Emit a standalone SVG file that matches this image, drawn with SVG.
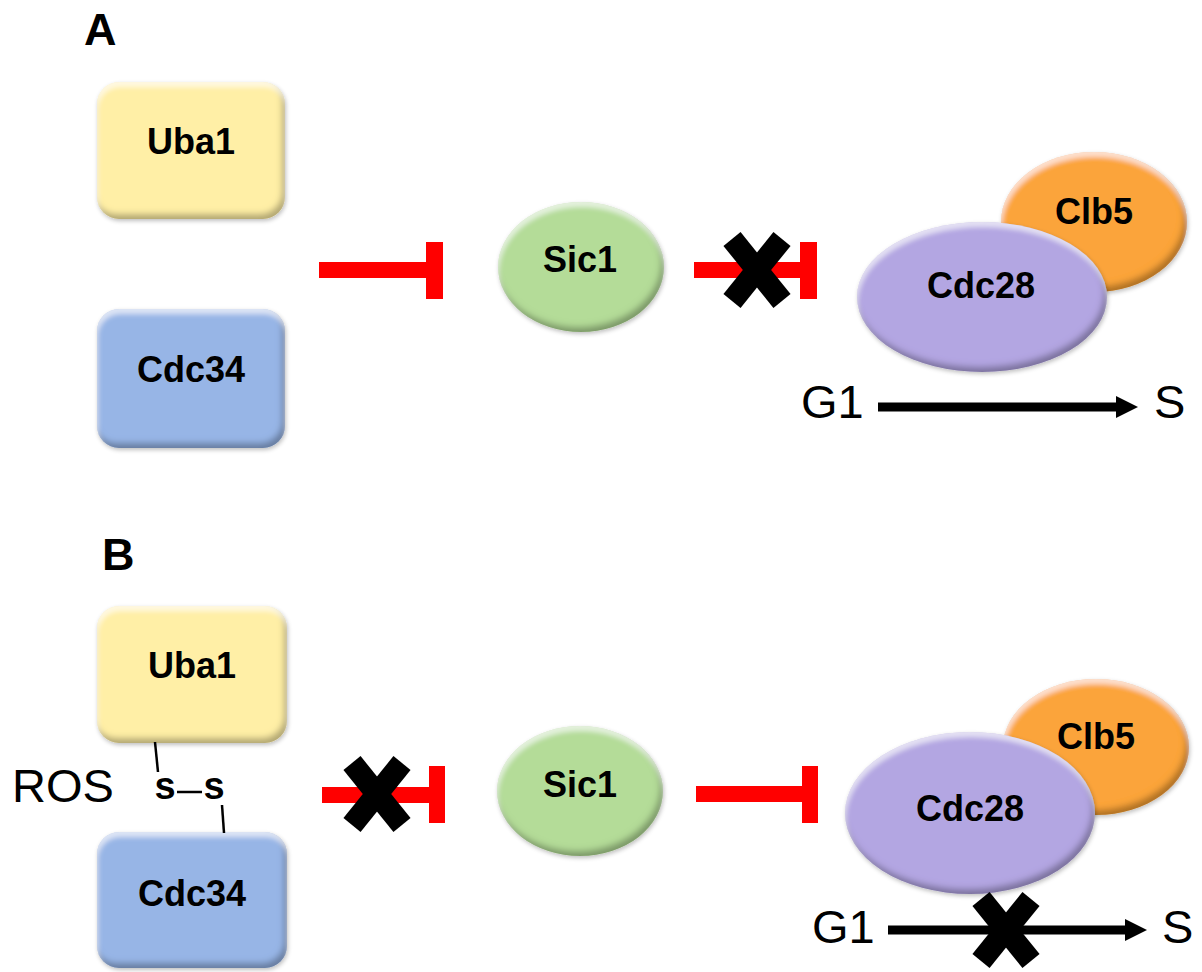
<svg xmlns="http://www.w3.org/2000/svg" width="1202" height="972" viewBox="0 0 1202 972">
<defs>
<style>
.lbl{font-family:"Liberation Sans",Arial,sans-serif;font-weight:bold;font-size:36px;text-anchor:middle;fill:#000}
.big{font-family:"Liberation Sans",Arial,sans-serif;font-size:47px;fill:#000}
.panel{font-family:"Liberation Sans",Arial,sans-serif;font-weight:bold;font-size:45px;fill:#000}
.ss{font-family:"Liberation Sans",Arial,sans-serif;font-weight:bold;font-size:38px;fill:#000;text-anchor:middle}
.inh{stroke:#FF0000;stroke-width:16;fill:none}
.bar{fill:#FF0000}
.xm{stroke:#000;stroke-width:22;stroke-linecap:butt}
.cell{stroke:#000;stroke-width:9;fill:none}
.bond{stroke:#000;stroke-width:2.5}
</style>
<filter id="bevel" x="-10%" y="-10%" width="125%" height="130%">
<feComponentTransfer in="SourceAlpha" result="inv"><feFuncA type="table" tableValues="1 0"/></feComponentTransfer>
<feGaussianBlur in="inv" stdDeviation="3" result="ib"/>
<feOffset in="ib" dx="-3" dy="-5" result="ibo"/>
<feFlood flood-color="#000" flood-opacity="0.55"/>
<feComposite operator="in" in2="ibo" result="sh"/>
<feComposite operator="in" in="sh" in2="SourceAlpha" result="inner"/>
<feGaussianBlur in="inv" stdDeviation="2.5" result="hb"/>
<feOffset in="hb" dx="1" dy="5" result="hbo"/>
<feFlood flood-color="#fff" flood-opacity="0.6"/>
<feComposite operator="in" in2="hbo" result="hl"/>
<feComposite operator="in" in="hl" in2="SourceAlpha" result="hi"/>
<feGaussianBlur in="SourceAlpha" stdDeviation="2" result="ds"/>
<feOffset in="ds" dx="1" dy="2" result="dso"/>
<feFlood flood-color="#000" flood-opacity="0.25"/>
<feComposite operator="in" in2="dso" result="drop"/>
<feMerge><feMergeNode in="drop"/><feMergeNode in="SourceGraphic"/><feMergeNode in="inner"/><feMergeNode in="hi"/></feMerge>
</filter>
<marker id="ah" markerUnits="userSpaceOnUse" markerWidth="24" markerHeight="24" refX="2" refY="11" orient="auto">
<path d="M0,0 L22,11 L0,22 Z" fill="#000"/>
</marker>
</defs>

<rect width="1202" height="972" fill="#fff"/>

<text class="panel" x="84" y="45">A</text>
<text class="panel" x="102" y="570">B</text>

<!-- Panel A nodes -->
<g id="uba1-a">
<rect x="97" y="82" width="188" height="137" rx="22" fill="#FFEFA6" filter="url(#bevel)"/>
<text class="lbl" x="191" y="154">Uba1</text>
</g>
<g id="cdc34-a">
<rect x="97" y="309" width="188" height="139" rx="22" fill="#97B5E6" filter="url(#bevel)"/>
<text class="lbl" x="191" y="382">Cdc34</text>
</g>
<g id="sic1-a">
<ellipse cx="581" cy="267" rx="83" ry="65" fill="#B4DC98" filter="url(#bevel)"/>
<text class="lbl" x="580" y="272">Sic1</text>
</g>
<g id="clb5-a">
<ellipse cx="1094" cy="222" rx="93" ry="70" fill="#FBA43A" filter="url(#bevel)"/>
<text class="lbl" x="1094" y="224">Clb5</text>
</g>
<g id="cdc28-a">
<ellipse cx="982" cy="297" rx="125" ry="75" fill="#B3A6E2" filter="url(#bevel)"/>
<text class="lbl" x="981" y="298">Cdc28</text>
</g>
<g id="g1-a"><text class="big" x="801" y="418">G1</text></g>
<g id="s-a"><text class="big" x="1154" y="418">S</text></g>

<!-- Panel B nodes -->
<g id="uba1-b">
<rect x="97" y="606" width="190" height="137" rx="22" fill="#FFEFA6" filter="url(#bevel)"/>
<text class="lbl" x="192" y="678">Uba1</text>
</g>
<g id="cdc34-b">
<rect x="97" y="832" width="190" height="136" rx="22" fill="#97B5E6" filter="url(#bevel)"/>
<text class="lbl" x="192" y="906">Cdc34</text>
</g>
<g id="sic1-b">
<ellipse cx="580" cy="791" rx="83" ry="65" fill="#B4DC98" filter="url(#bevel)"/>
<text class="lbl" x="580" y="797">Sic1</text>
</g>
<g id="clb5-b">
<ellipse cx="1096" cy="747" rx="93" ry="68" fill="#FBA43A" filter="url(#bevel)"/>
<text class="lbl" x="1096" y="749">Clb5</text>
</g>
<g id="cdc28-b">
<ellipse cx="970" cy="813" rx="125" ry="81" fill="#B3A6E2" filter="url(#bevel)"/>
<text class="lbl" x="970" y="821">Cdc28</text>
</g>
<g id="ros"><text class="big" x="12" y="802">ROS</text></g>
<g id="g1-b"><text class="big" x="812" y="943">G1</text></g>
<g id="s-b"><text class="big" x="1162" y="943">S</text></g>
<g id="disulfide">
<text class="ss" x="165" y="799">s</text>
<text class="ss" x="214" y="799">s</text>
</g>

<!-- Connectors -->
<g id="connectors">
<!-- A: Uba1/Cdc34 inhibit Sic1 -->
<line class="inh" x1="319" y1="270" x2="430" y2="270"/>
<rect class="bar" x="426" y="242" width="17" height="57"/>
<!-- A: Sic1 inhibit Cdc28 (blocked) -->
<line class="inh" x1="694" y1="270" x2="805" y2="270"/>
<rect class="bar" x="800" y="242" width="17" height="57"/>
<line class="xm" x1="732" y1="239" x2="782" y2="301"/>
<line class="xm" x1="782" y1="239" x2="732" y2="301"/>
<!-- A: G1 to S -->
<line class="cell" x1="878" y1="407" x2="1118" y2="407" marker-end="url(#ah)"/>

<!-- B: disulfide bonds -->
<line class="bond" x1="155" y1="742" x2="158" y2="772"/>
<line class="bond" x1="177" y1="792" x2="202" y2="792"/>
<line class="bond" x1="222" y1="805" x2="224" y2="833"/>
<!-- B: inhibit Sic1 (blocked) -->
<line class="inh" x1="322" y1="795" x2="432" y2="795"/>
<rect class="bar" x="429" y="766" width="16" height="57"/>
<line class="xm" x1="352" y1="763" x2="402" y2="825"/>
<line class="xm" x1="402" y1="763" x2="352" y2="825"/>
<!-- B: Sic1 inhibits Cdc28 -->
<line class="inh" x1="696" y1="794" x2="806" y2="794"/>
<rect class="bar" x="802" y="766" width="16" height="57"/>
<!-- B: G1 to S (blocked) -->
<line class="cell" x1="888" y1="930" x2="1127" y2="930" marker-end="url(#ah)"/>
<line class="xm" x1="981" y1="899" x2="1031" y2="961"/>
<line class="xm" x1="1031" y1="899" x2="981" y2="961"/>
</g>
</svg>
